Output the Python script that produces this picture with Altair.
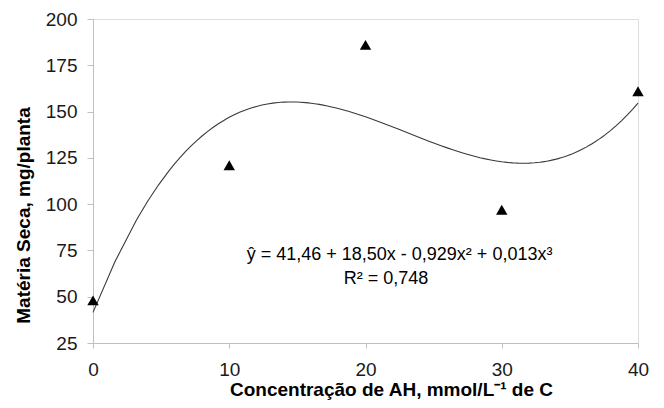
import altair as alt
import pandas as pd

conc = [0, 10, 20, 30, 40]
materia = [48, 121, 186, 97, 161]
x_ticks = [0, 10, 20, 30, 40]
y_ticks = [25, 50, 75, 100, 125, 150, 175, 200]
eq_lines = ["ŷ = 41,46 + 18,50x - 0,929x² + 0,013x³", "R² = 0,748"]
eq_x = [22.5, 21.5]
eq_y = [72.5, 59.6]

df = pd.DataFrame({"x": conc, "y": materia})
eq = pd.DataFrame({"t": eq_lines, "x": eq_x, "y": eq_y})

FONT = "Liberation Sans"

xs = alt.Scale(domain=[0, 40], nice=False, zero=False)
ys = alt.Scale(domain=[25, 200], nice=False, zero=False)

xaxis = alt.Axis(values=x_ticks, grid=False, domainColor="#bfbfbf", tickColor="#bfbfbf",
                 tickSize=5, labelFontSize=19, labelFont=FONT, labelColor="#1a1a1a",
                 labelPadding=12, labelFlush=False, title="Concentração de AH, mmol/L⁻¹ de C",
                 titleFont=FONT, titleFontSize=19, titleFontWeight="bold", titleColor="#000",
                 titleX=298, titleY=46, titleBaseline="middle", titleAnchor="middle", titleAlign="center")
yaxis = alt.Axis(values=y_ticks, grid=False, domainColor="#bfbfbf", tickColor="#bfbfbf",
                 tickSize=6, labelFontSize=19, labelFont=FONT, labelColor="#1a1a1a",
                 labelPadding=10, labelFlush=False, title="Matéria Seca, mg/planta",
                 titleFont=FONT, titleFontSize=19, titleFontWeight="bold", titleColor="#000",
                 titleX=-60, titleY=196, titleAlign="center")

base = alt.Chart(df)

points = base.mark_point(shape="triangle-up", filled=True, color="#000", size=130, opacity=1).encode(
    x=alt.X("x:Q", scale=xs, axis=xaxis),
    y=alt.Y("y:Q", scale=ys, axis=yaxis),
)

curve = base.transform_regression("x", "y", method="poly", order=3, extent=[0, 40]).mark_line(
    color="#3a3a3a", strokeWidth=1.1
).encode(
    x=alt.X("x:Q", scale=xs),
    y=alt.Y("y:Q", scale=ys),
)

text = alt.Chart(eq).mark_text(font=FONT, fontSize=18, color="#000", align="center").encode(
    x=alt.X("x:Q", scale=xs),
    y=alt.Y("y:Q", scale=ys),
    text="t:N",
)

chart = alt.layer(curve, points, text).properties(
    width=545, height=324,
    autosize=alt.AutoSizeParams(type="none"),
    padding={"left": 85, "top": 11, "right": 18, "bottom": 57},
).configure_view(stroke=None).configure(background="white")

chart.save("out.html", embed_options={"renderer": "svg", "actions": False})
